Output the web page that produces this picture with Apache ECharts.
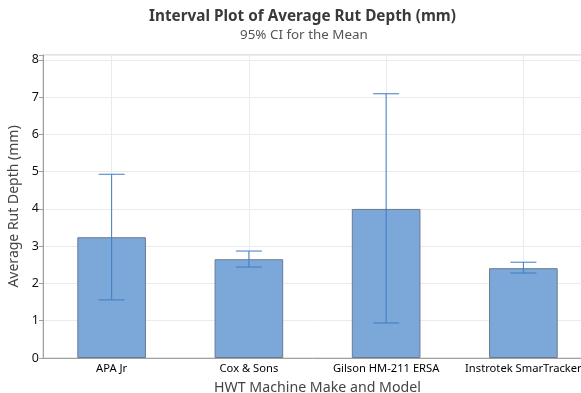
<!DOCTYPE html>
<html>
<head>
<meta charset="utf-8">
<script src="https://cdn.jsdelivr.net/npm/echarts@6/dist/echarts.min.js"></script>
<style>html,body{margin:0;padding:0;background:#fff}#c{width:581px;height:393px}</style>
</head>
<body>
<div id="c"></div>
<script>
const categories = ['APA Jr', 'Cox & Sons', 'Gilson HM-211 ERSA', 'Instrotek SmarTracker'];
const means = [3.24, 2.65, 4.00, 2.41];
const ciLow = [1.56, 2.44, 0.94, 2.28];
const ciHigh = [4.93, 2.87, 7.09, 2.57];
const yTicks = [0, 1, 2, 3, 4, 5, 6, 7, 8];

const FONT = 'Noto Sans';
const chart = echarts.init(document.getElementById('c'), null, {renderer: 'canvas'});
chart.setOption({
  animation: false,
  textStyle: {fontFamily: FONT},
  graphic: [
    {type: 'text', left: 149, top: 9,
      style: {text: 'Interval Plot of Average Rut Depth (mm)', font: 'bold 15.3px "Noto Sans"', fill: '#3a3a3a'}},
    {type: 'text', left: 240, top: 29,
      style: {text: '95% CI for the Mean', font: '13.4px "Noto Sans"', fill: '#555'}}
  ],
  grid: {left: 43, right: -11, top: 55, bottom: 35, show: true, borderColor: '#c8c8c8', borderWidth: 1,
    outerBoundsMode: 'none', containLabel: false},
  xAxis: {
    type: 'category', data: categories,
    name: 'HWT Machine Make and Model', nameLocation: 'middle', nameGap: 23,
    nameTextStyle: {fontFamily: FONT, fontSize: 14.2, color: '#444'},
    axisLine: {lineStyle: {color: '#a0a0a0'}},
    axisTick: {alignWithLabel: true, length: 4, lineStyle: {color: '#a0a0a0'}},
    axisLabel: {fontFamily: FONT, fontSize: 11.2, color: '#000', margin: 5, interval: 0, hideOverlap: false},
    splitLine: {show: false}
  },
  yAxis: {
    type: 'value', min: 0, max: 8.13, interval: 1,
    name: 'Average Rut Depth (mm)', nameLocation: 'middle', nameGap: 19.5,
    nameTextStyle: {fontFamily: FONT, fontSize: 14, color: '#444'},
    axisLine: {show: true, lineStyle: {color: '#a0a0a0'}},
    axisTick: {show: true, length: 4, lineStyle: {color: '#a0a0a0'}},
    axisLabel: {fontFamily: FONT, fontSize: 12.5, color: '#111', margin: 4,
      formatter: v => (yTicks.indexOf(v) >= 0 ? String(v) : '')},
    splitLine: {lineStyle: {color: '#ebebeb'}}
  },
  series: [
    {
      type: 'bar', data: means, barWidth: '50%',
      itemStyle: {color: '#7ba7d9', borderColor: '#6b7a90', borderWidth: 1},
      markLine: {
        silent: true, symbol: 'none', label: {show: false},
        lineStyle: {color: '#ebebeb', type: 'solid', width: 1},
        z: 0,
        data: categories.map(c => ({xAxis: c}))
      },
      z: 2
    },
    {
      type: 'custom', z: 5,
      data: categories.map((c, i) => [i, ciLow[i], ciHigh[i]]),
      renderItem: function (params, api) {
        const x = api.value(0);
        const lo = api.coord([x, api.value(1)]);
        const hi = api.coord([x, api.value(2)]);
        const hw = 13;
        const st = {stroke: '#3f7cc4', lineWidth: 1};
        return {type: 'group', children: [
          {type: 'line', shape: {x1: lo[0], y1: lo[1], x2: hi[0], y2: hi[1]}, style: st},
          {type: 'line', shape: {x1: lo[0] - hw, y1: lo[1], x2: lo[0] + hw, y2: lo[1]}, style: st},
          {type: 'line', shape: {x1: hi[0] - hw, y1: hi[1], x2: hi[0] + hw, y2: hi[1]}, style: st}
        ]};
      }
    }
  ]
});
</script>
</body>
</html>
